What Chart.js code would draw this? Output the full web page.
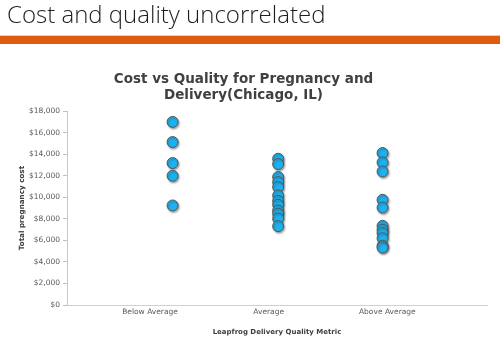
<!DOCTYPE html>
<html>
<head>
<meta charset="utf-8">
<script src="https://cdn.jsdelivr.net/npm/chart.js@4"></script>
<style>
  html, body { margin: 0; padding: 0; background: #fff; }
  #wrap { position: relative; width: 500px; height: 355px; overflow: hidden; }
  #head { position: absolute; left: 7px; top: -3px; font-family: "Open Sans", sans-serif; font-weight: 300; font-size: 24px; color: #1e1e1e; white-space: nowrap; }
  #bar { position: absolute; left: 0; top: 35px; width: 500px; height: 9px; background: #DF5B12; border-top: 1px solid #f3c9b3; box-sizing: border-box; }
  #c { position: absolute; left: 0; top: 0; }
</style>
</head>
<body>
<div id="wrap">
  <canvas id="c" width="500" height="355"></canvas>
  <div id="head">Cost and quality uncorrelated</div>
  <div id="bar"></div>
</div>
<script>
const categories = ['Below Average', 'Average', 'Above Average'];
const categoryX = [1.19, 2.08, 2.96];
const belowAverage = [17000, 15130, 13180, 12000, 9240];
const average = [13580, 13090, 11880, 11410, 10950, 10170, 9670, 9300, 8770, 8470, 8030, 7320];
const aboveAverage = [14110, 13240, 12400, 9770, 9050, 7350, 6980, 6670, 6200, 5500, 5330];
const yTicks = [0, 2000, 4000, 6000, 8000, 10000, 12000, 14000, 16000, 18000];
const chartTitle = ['Cost vs Quality for Pregnancy and', 'Delivery(Chicago, IL)'];
const xTitle = 'Leapfrog Delivery Quality Metric';
const yTitle = 'Total pregnancy cost';

const seriesValues = [belowAverage, average, aboveAverage];
const FONT = '"DejaVu Sans", Verdana, sans-serif';

const shadowPlugin = {
  id: 'shadow',
  beforeDatasetsDraw(chart) {
    const ctx = chart.ctx;
    ctx.save();
    ctx.shadowColor = 'rgba(0,0,0,0.35)';
    ctx.shadowBlur = 2;
    ctx.shadowOffsetX = 1;
    ctx.shadowOffsetY = 1.5;
  },
  afterDatasetsDraw(chart) {
    chart.ctx.restore();
  }
};

new Chart(document.getElementById('c'), {
  type: 'scatter',
  data: {
    datasets: seriesValues.map((vals, i) => ({
      label: categories[i],
      data: vals.map(v => ({ x: categoryX[i], y: v })),
      backgroundColor: '#1DB1EE',
      borderColor: '#555555',
      borderWidth: 1,
      pointRadius: 5.5,
      pointHoverRadius: 5.5
    }))
  },
  options: {
    responsive: false,
    animation: false,
    layout: { padding: { top: 71, left: 0, right: 13, bottom: 0 } },
    plugins: {
      legend: { display: false },
      tooltip: { enabled: false },
      title: {
        display: true,
        text: chartTitle,
        color: '#404040',
        font: { family: FONT, size: 13.5, weight: 'bold', lineHeight: 1.19 },
        padding: { top: 0, bottom: 8 }
      }
    },
    scales: {
      x: {
        type: 'linear',
        min: 0.3,
        max: 3.84,
        afterBuildTicks(scale) { scale.ticks = [1, 2, 3].map(v => ({ value: v })); },
        afterFit(scale) { scale.height = 50; },
        grid: { display: false, drawTicks: false },
        border: { display: true, color: '#d0d0d0', width: 1 },
        ticks: {
          padding: 3,
          color: '#595959',
          font: { family: FONT, size: 7.5 },
          maxRotation: 0,
          autoSkip: false,
          callback: (v) => categories[Math.round(v) - 1]
        },
        title: {
          display: true,
          text: xTitle,
          color: '#404040',
          font: { family: FONT, size: 7, weight: 'bold', lineHeight: 1.2 },
          padding: { top: 0, bottom: 19 }
        }
      },
      y: {
        min: 0,
        max: 18000,
        afterBuildTicks(scale) { scale.ticks = yTicks.map(v => ({ value: v })); },
        afterFit(scale) { scale.width = 67; },
        grid: { display: true, drawOnChartArea: false, drawTicks: true, tickLength: 4, color: '#bfbfbf' },
        border: { display: true, color: '#c8c8c8', width: 1 },
        ticks: {
          padding: 3,
          color: '#595959',
          font: { family: FONT, size: 7.5 },
          callback: (v) => '$' + v.toLocaleString('en-US')
        },
        title: {
          display: true,
          text: yTitle,
          color: '#404040',
          font: { family: FONT, size: 7.2, weight: 'bold', lineHeight: 1.2 },
          padding: { top: 18, bottom: 0 }
        }
      }
    }
  },
  plugins: [shadowPlugin]
});
</script>
</body>
</html>
